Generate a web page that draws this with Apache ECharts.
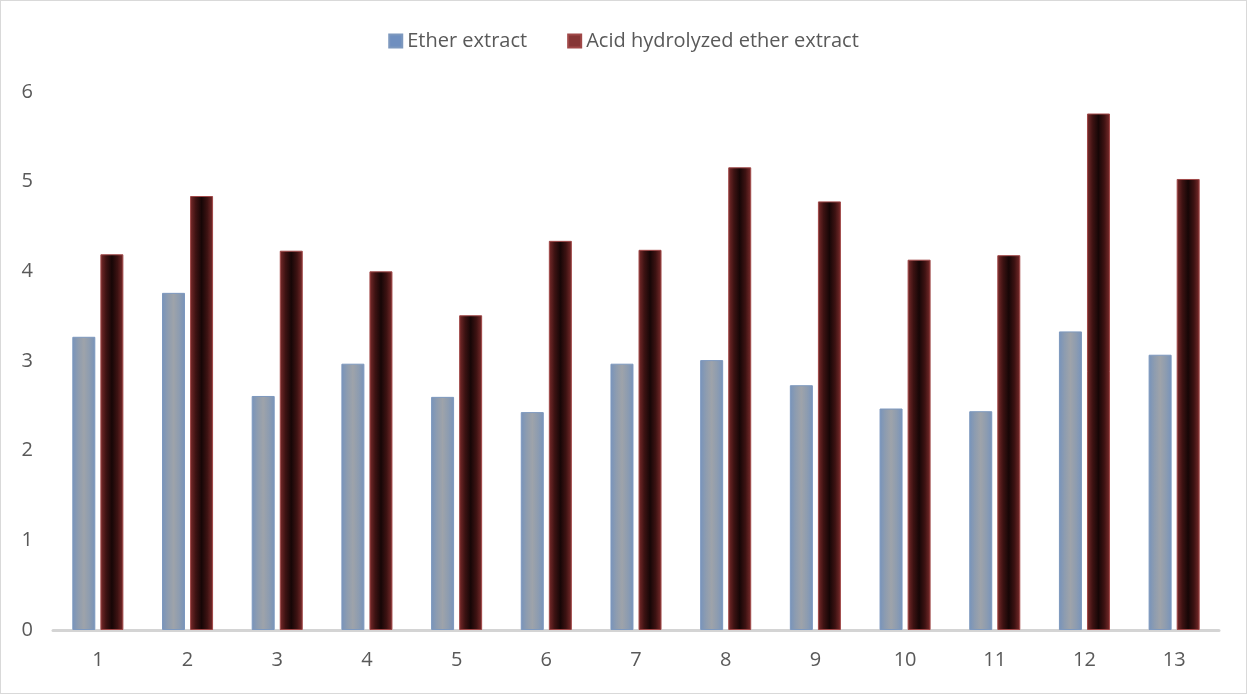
<!DOCTYPE html>
<html>
<head>
<meta charset="utf-8">
<script src="https://cdn.jsdelivr.net/npm/echarts@6/dist/echarts.min.js"></script>
<style>
  html, body { margin: 0; padding: 0; background: #fff; }
  #chart { width: 1247px; height: 694px; box-sizing: border-box; border: 1px solid #d9d9d9; }
</style>
</head>
<body>
<div id="chart"></div>
<script>
// Sample numbers on the x axis
const categories = ['1', '2', '3', '4', '5', '6', '7', '8', '9', '10', '11', '12', '13'];
// Fat content by method
const etherExtract = [3.27, 3.76, 2.61, 2.97, 2.60, 2.43, 2.97, 3.01, 2.73, 2.47, 2.44, 3.33, 3.07];
const acidHydrolyzed = [4.19, 4.84, 4.23, 4.00, 3.51, 4.34, 4.24, 5.16, 4.78, 4.13, 4.18, 5.76, 5.03];
const seriesNames = ['Ether extract', 'Acid hydrolyzed ether extract'];

const FONT = 'Open Sans, Noto Sans, sans-serif';

// soft cylinder-like shading across the bar width
function sideGradient(edge, inner, mid) {
  return new echarts.graphic.LinearGradient(0, 0, 1, 0, [
    { offset: 0, color: edge },
    { offset: 0.25, color: inner },
    { offset: 0.5, color: mid },
    { offset: 0.75, color: inner },
    { offset: 1, color: edge }
  ]);
}

const chart = echarts.init(document.getElementById('chart'));
chart.setOption({
  animation: false,
  backgroundColor: '#ffffff',
  textStyle: { fontFamily: FONT },
  legend: {
    top: 25,
    left: 'center',
    itemWidth: 13,
    itemHeight: 13,
    itemGap: 40,
    textStyle: { fontSize: 20, color: '#595959', fontFamily: FONT },
    data: [
      { name: seriesNames[0], icon: 'rect', itemStyle: { color: '#6f8fbf' } },
      { name: seriesNames[1], icon: 'rect', itemStyle: { color: '#863535' } }
    ]
  },
  grid: { left: 52, right: 27, top: 91, bottom: 63, containLabel: false },
  xAxis: {
    type: 'category',
    data: categories,
    axisLine: { lineStyle: { color: '#d4d4d4', width: 3 } },
    axisTick: { show: false },
    axisLabel: { fontSize: 20, color: '#595959', margin: 20 }
  },
  yAxis: {
    type: 'value',
    min: 0,
    max: 6,
    interval: 1,
    axisLine: { show: false },
    axisTick: { show: false },
    splitLine: { show: false },
    axisLabel: { fontSize: 20, color: '#595959', margin: 20 }
  },
  series: [
    {
      name: seriesNames[0],
      type: 'bar',
      data: etherExtract,
      barWidth: 23,
      barGap: '22%',
      itemStyle: {
        color: sideGradient('#7793bb', '#8d9cb0', '#9ea3aa'),
        borderColor: '#7d98be',
        borderWidth: 1
      }
    },
    {
      name: seriesNames[1],
      type: 'bar',
      data: acidHydrolyzed,
      barWidth: 23,
      itemStyle: {
        color: sideGradient('#7a2b2b', '#3d1212', '#160606'),
        borderColor: '#a04848',
        borderWidth: 1
      }
    }
  ]
});
</script>
</body>
</html>
